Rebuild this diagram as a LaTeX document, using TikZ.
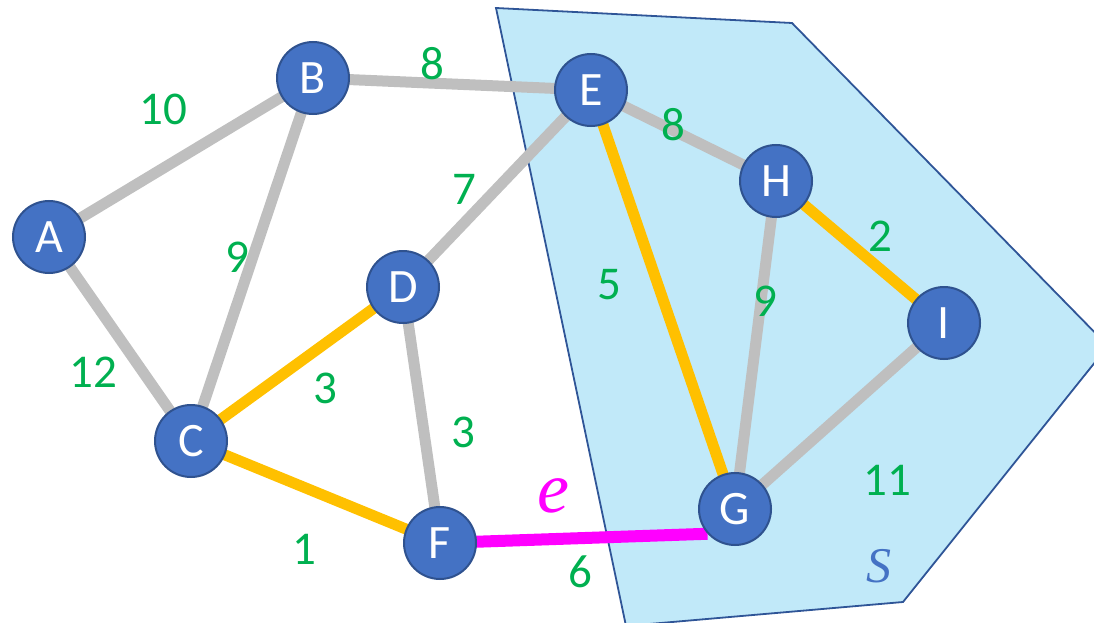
\documentclass[tikz,border=0pt]{standalone}
\usepackage{fontspec}
\setmainfont{Carlito}
\newfontfamily\serifit{Liberation Serif}
\definecolor{nodefill}{HTML}{4472C4}
\definecolor{nodeline}{HTML}{2F528F}
\definecolor{edgegray}{HTML}{BFBFBF}
\definecolor{edgeorange}{HTML}{FFC000}
\definecolor{edgemag}{HTML}{FF00FF}
\definecolor{wgreen}{HTML}{00B050}
\definecolor{regionfill}{HTML}{C1E9F9}
\definecolor{regionline}{HTML}{2F5597}
\pgfdeclarelayer{edges}
\pgfdeclarelayer{region}
\pgfsetlayers{region,edges,main}
\begin{document}
\begin{tikzpicture}[x=1pt,y=-1pt,
  vert/.style={circle,minimum size=72pt,inner sep=0pt,fill=nodefill,draw=nodeline,line width=2pt,text=white,font=\fontsize{48}{48}\selectfont},
  grayedge/.style={draw=edgegray,line width=11pt},
  orangeedge/.style={draw=edgeorange,line width=11pt},
  magedge/.style={draw=edgemag,line width=12pt},
  wlabel/.style={text=wgreen,font=\fontsize{47}{47}\selectfont,inner sep=0pt}
]
\useasboundingbox (0,0) rectangle (1094,623);
\begin{pgfonlayer}{region}
\clip (0,0) rectangle (1094,623);
\draw[fill=regionfill,draw=regionline,line width=1.8pt] (496,8) -- (792,23) -- (1108,346) -- (903,602) -- (626,626) -- cycle;
\end{pgfonlayer}
% nodes
\node[vert] (A) at (49,237) {A};
\node[vert] (B) at (313,78) {B};
\node[vert] (E) at (591,90) {E};
\node[vert] (H) at (776,181) {H};
\node[vert] (I) at (944,323) {I};
\node[vert] (D) at (403,287) {D};
\node[vert] (C) at (191,441) {C};
\node[vert] (F) at (440,543) {F};
\node[vert] (G) at (735,509) {G};
% edges
\begin{pgfonlayer}{edges}
\draw[grayedge] (A.center) -- (B.center);
\draw[grayedge] (A.center) -- (C.center);
\draw[grayedge] (B.center) -- (C.center);
\draw[grayedge] (B.center) -- (E.center);
\draw[grayedge] (E.center) -- (D.center);
\draw[grayedge] (E.center) -- (H.center);
\draw[grayedge] (H.center) -- (G.center);
\draw[grayedge] (I.center) -- (G.center);
\draw[grayedge] (D.center) -- (F.center);
\draw[orangeedge] (E.center) -- (G.center);
\draw[orangeedge] (H.center) -- (I.center);
\draw[orangeedge] (D.center) -- (C.center);
\draw[orangeedge] (C.center) -- (F.center);
\draw[magedge] (F.center) -- (G.222);
\end{pgfonlayer}
% weights
\node[wlabel] (wAB) at (163,109) {10};
\node[wlabel] (wBE) at (432,64) {8};
\node[wlabel] (wEH) at (673,125) {8};
\node[wlabel] (wED) at (464,189) {7};
\node[wlabel] (wBC) at (237,257) {9};
\node[wlabel] (wAC) at (93,372) {12};
\node[wlabel] (wCD) at (325,388) {3};
\node[wlabel] (wDF) at (463,432) {3};
\node[wlabel] (wEG) at (609,285) {5};
\node[wlabel] (wHG) at (765,301) {9};
\node[wlabel] (wHI) at (880,236) {2};
\node[wlabel] (wIG) at (887,480) {11};
\node[wlabel] (wCF) at (304,549) {1};
\node[wlabel] (wFG) at (580,572) {6};
\node[text=edgemag,font=\serifit\itshape\fontsize{72}{72}\selectfont,inner sep=0pt] (le) at (553,496) {e};
\node[text=nodefill,font=\serifit\itshape\fontsize{50}{50}\selectfont,inner sep=0pt] (lS) at (879,566) {S};
\end{tikzpicture}
\end{document}
